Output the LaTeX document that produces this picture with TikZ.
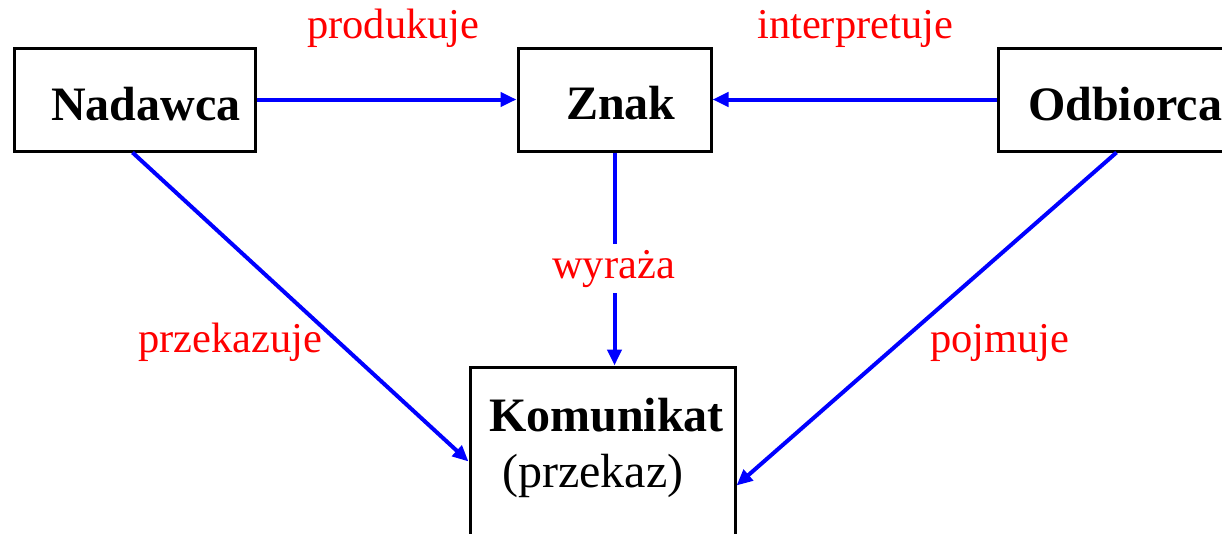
\documentclass[tikz,border=0pt]{standalone}
\usepackage{fontspec}
\setmainfont{Liberation Serif}
\usetikzlibrary{arrows.meta,calc}
\tikzset{
  box/.style={draw=black, line width=3pt, fill=white, inner sep=0pt},
  boxtext/.style={font=\fontsize{48}{56}\selectfont\bfseries, inner sep=0pt, anchor=base west},
  plaintext/.style={font=\fontsize{48}{56}\selectfont, inner sep=0pt, anchor=base west},
  lab/.style={font=\fontsize{42.5}{50}\selectfont, text=red, inner sep=0pt, anchor=base west},
  conn/.style={draw=blue, line width=4pt, -{Triangle[length=16pt,width=14pt]}, shorten >=0pt}
}
\begin{document}
\begin{tikzpicture}[x=1pt,y=-1pt]
\useasboundingbox (0,0) rectangle (1222,533);
\clip (0,0) rectangle (1222,533);
\fill[white] (0,0) rectangle (1222,533);
% boxes
\node[box, minimum width=241pt, minimum height=103pt] (nad) at (134.5,99.5) {};
\node[box, minimum width=193pt, minimum height=103pt] (znak) at (614.5,99.5) {};
\node[box, minimum width=250pt, minimum height=103pt] (odb) at (1123,99.5) {};
\node[box, minimum width=265pt, minimum height=240pt] (kom) at (602.5,487) {};
% box texts
\node[boxtext] (tnad) at (51,120) {Nadawca};
\node[boxtext] (tznak) at (566,119) {Znak};
\node[boxtext] (todb) at (1028,120) {Odbiorca};
\node[boxtext] (tkom) at (489,431) {Komunikat};
\node[plaintext] (tprz) at (502,487) {(przekaz)};
% connectors
\draw[conn] (nad.east) -- (znak.west);
\draw[conn] (odb.west) -- (znak.west -| znak.east);
\draw[conn] (znak.south) -- (znak.south |- kom.north);
\draw[conn] ([xshift=120pt]nad.south west) -- ([yshift=-96pt]kom.north west);
\draw[conn] ([xshift=120pt]odb.south west) -- ([yshift=-120pt]kom.north east);
% labels
\node[lab] (lprod) at (307,38) {produkuje};
\node[lab] (linterp) at (757,38) {interpretuje};
\node[lab, fill=white, inner ysep=6pt] (lwyr) at (552,278) {wyraża};
\node[lab] (lprzek) at (138,352) {przekazuje};
\node[lab] (lpoj) at (930,352) {pojmuje};
\end{tikzpicture}
\end{document}
